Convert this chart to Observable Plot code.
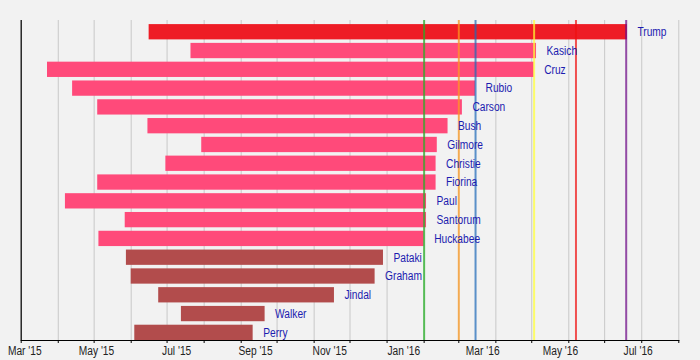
<!DOCTYPE html>
<html><head><meta charset="utf-8">
<script src="https://cdn.jsdelivr.net/npm/d3@7"></script>
<script src="https://cdn.jsdelivr.net/npm/@observablehq/plot@0.6"></script>
<style>
html,body{margin:0;padding:0;background:#f2f2f2;}
</style></head><body><div id="chart"></div>
<script>
const candidates = ["Trump","Kasich","Cruz","Rubio","Carson","Bush","Gilmore","Christie","Fiorina","Paul","Santorum","Huckabee","Pataki","Graham","Jindal","Walker","Perry"];
const startDates = ["2015-06-16","2015-07-21","2015-03-23","2015-04-13","2015-05-04","2015-06-15","2015-07-30","2015-06-30","2015-05-04","2015-04-07","2015-05-27","2015-05-05","2015-05-28","2015-06-01","2015-06-24","2015-07-13","2015-06-04"];
const endDates = ["2016-07-20","2016-05-05","2016-05-03","2016-03-15","2016-03-04","2016-02-21","2016-02-12","2016-02-11","2016-02-11","2016-02-03","2016-02-03","2016-02-01","2015-12-29","2015-12-22","2015-11-18","2015-09-21","2015-09-11"];
const groups = ["nominee","late","late","late","late","late","late","late","late","late","late","late","early","early","early","early","early"];
const groupNames = ["nominee","late","early"];
const groupColors = ["#ee1c25","#ff4a7a","#b24c4c"];
const eventDates = ["2016-02-01","2016-03-01","2016-03-15","2016-05-03","2016-06-07","2016-07-19"];
const eventColors = ["#22b022","#ff9a1e","#1e6ab8","#ffff33","#ee1111","#6e0a86"];
const tickLabels = ["Mar '15","May '15","Jul '15","Sep '15","Nov '15","Jan '16","Mar '16","May '16","Jul '16"];
const tickLabelDates = ["2015-03-04","2015-05-03","2015-07-09","2015-09-13","2015-11-14","2016-01-15","2016-03-21","2016-05-25","2016-07-29"];
const axisStart = "2015-03-01", axisEnd = "2016-09-01";

const colorOf = new Map(groupNames.map((g,i)=>[g,groupColors[i]]));
const data = candidates.map((name,i)=>({name, start:new Date(startDates[i]), end:new Date(endDates[i]), group:groups[i]}));
const events = eventDates.map((d,i)=>({date:new Date(d), color:eventColors[i]}));
const labelOf = new Map(tickLabelDates.map((d,i)=>[new Date(d).getTime(), tickLabels[i]]));

const font = "'Liberation Sans',Arial,sans-serif";
const plot = Plot.plot({
  width:700, height:360,
  marginLeft:20.7, marginRight:21.7, marginTop:20, marginBottom:20,
  style:{background:"#f2f2f2", fontFamily:font, fontSize:"12px", overflow:"visible"},
  x:{type:"utc", domain:[new Date(axisStart), new Date(axisEnd)]},
  y:{type:"band", domain:candidates, paddingInner:0.186, paddingOuter:0.109, align:1, round:false, axis:null},
  color:{type:"identity"},
  marks:[
    Plot.gridX({ticks:d3.utcMonth, stroke:"#c8c8c8", strokeOpacity:1}),
    Plot.barX(data, {x1:"start", x2:"end", y:"name", fill:d=>colorOf.get(d.group)}),
    Plot.ruleX(events, {x:"date", stroke:"color", strokeWidth:2, strokeOpacity:0.72}),
    Plot.text(data, {x:"end", y:"name", text:"name", dx:10, textAnchor:"start", fill:"#1c1cb0", fontSize:12, fontFamily:font}),
    Plot.axisX({ticks:d3.utcMonth, tickSize:3, tickFormat:()=>"", stroke:"#000"}),
    Plot.axisX({ticks:tickLabelDates.map(d=>new Date(d)), tickSize:0, tickPadding:6, tickFormat:d=>labelOf.get(d.getTime()), fill:"#222", fontSize:12, fontFamily:font}),
    Plot.ruleX([new Date(axisStart)], {stroke:"#000", strokeWidth:1.2}),
    Plot.frame({anchor:"bottom", stroke:"#000", strokeWidth:1.2})
  ]
});
document.getElementById("chart").appendChild(plot);
// mimic the narrow typeface of the original
plot.querySelectorAll("text").forEach(t => {
  if (!t.textContent) return;
  const w = t.getComputedTextLength();
  if (w > 0) { t.setAttribute("textLength", (w*0.85).toFixed(2)); t.setAttribute("lengthAdjust","spacingAndGlyphs"); }
});
</script>
</body></html>
